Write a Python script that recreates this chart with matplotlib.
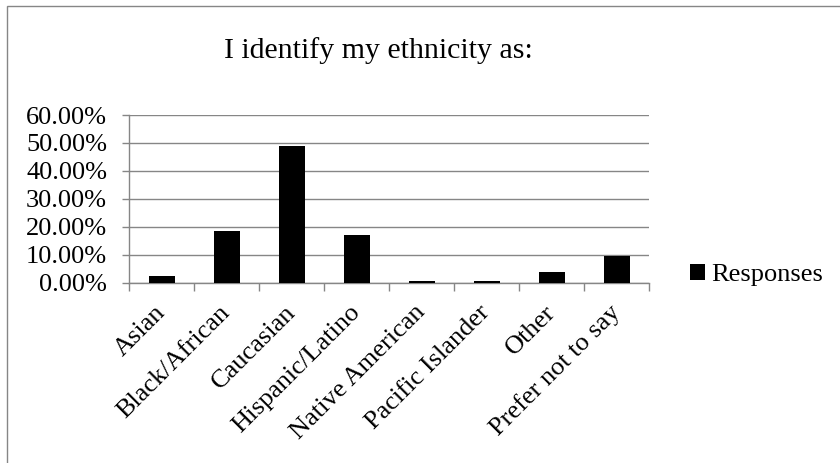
import matplotlib
matplotlib.use("Agg")
import matplotlib.pyplot as plt
from matplotlib.ticker import PercentFormatter, FixedLocator
from matplotlib.patches import Rectangle
from matplotlib.transforms import ScaledTranslation

plt.rcParams['font.family'] = ['Liberation Serif', 'DejaVu Serif']

categories = ["Asian", "Black/African", "Caucasian", "Hispanic/Latino",
              "Native American", "Pacific Islander", "Other", "Prefer not to say"]
responses = [0.024, 0.184, 0.490, 0.170, 0.007, 0.005, 0.036, 0.096]
series_name = "Responses"
title = "I identify my ethnicity as:"

W, H = 840, 463
DPI = 100
GRID = "#868686"

fig = plt.figure(figsize=(W / DPI, H / DPI), dpi=DPI)

# outer chart frame (runs off the right and bottom edges)
fig.patches.append(Rectangle((7 / W, -0.05), 1.2, 1 - 6 / H + 0.05,
                             transform=fig.transFigure, fill=False,
                             edgecolor=GRID, linewidth=1.0))

left, right = 129.3 / W, 649.3 / W
bottom, top = 1 - 282.5 / H, 1 - 115 / H
ax = fig.add_axes([left, bottom, right - left, top - bottom])

x = list(range(len(categories)))
ax.bar(x, responses, width=0.4, color="black", label=series_name, zorder=3)

ax.set_xlim(-0.5, len(categories) - 0.5)
ax.set_ylim(0, 0.6)
ax.set_yticks([i / 10 for i in range(7)])
ax.yaxis.set_major_formatter(PercentFormatter(xmax=1, decimals=2))
ax.yaxis.grid(True, color=GRID, linewidth=1.0, zorder=0)

ax.set_xticks(x)
ax.set_xticklabels(categories, rotation=45, ha="right", va="center",
                   rotation_mode="anchor")
shift = ScaledTranslation(3 / DPI, 0, fig.dpi_scale_trans)
for lbl in ax.get_xticklabels():
    lbl.set_transform(lbl.get_transform() + shift)
ax.xaxis.set_minor_locator(FixedLocator([i - 0.5 for i in range(len(categories) + 1)]))
ax.tick_params(axis="x", which="major", length=0, pad=19, labelsize=19)
ax.tick_params(axis="x", which="minor", length=5.4, width=1.0, color=GRID, direction="out")
ax.tick_params(axis="y", which="major", length=5, width=1.0, color=GRID,
               direction="out", pad=11, labelsize=19)

for s in ("top", "right"):
    ax.spines[s].set_visible(False)
for s in ("left", "bottom"):
    ax.spines[s].set_color(GRID)
    ax.spines[s].set_linewidth(1.0)

fig.text(378 / W, 1 - 58 / H, title, ha="center", va="baseline", fontsize=21.5)

ax.legend(loc="center left", bbox_to_anchor=(690 / W, 1 - 275 / H),
          bbox_transform=fig.transFigure, frameon=False, fontsize=19,
          handlelength=0.55, handleheight=0.55, handletextpad=0.25,
          borderpad=0, borderaxespad=0)

fig.savefig("out.png", dpi=DPI)
